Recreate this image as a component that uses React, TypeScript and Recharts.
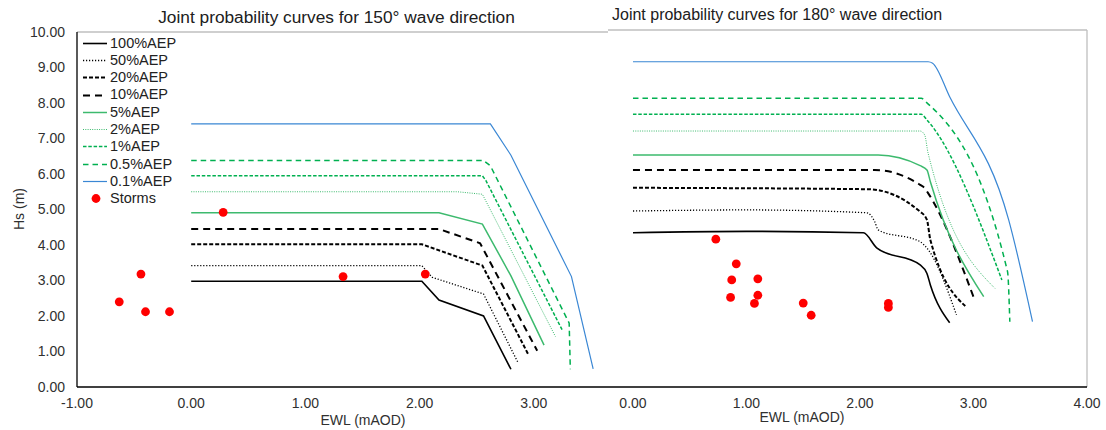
import React from 'react';
import { ComposedChart, Line, Scatter, XAxis, YAxis, ReferenceLine, Legend } from 'recharts';

type Pt = [number, number];

const FONT = '"Liberation Sans", Arial, sans-serif';

// ---- labels ----
const title150 = 'Joint probability curves for 150\u00b0 wave direction';
const title180 = 'Joint probability curves for 180\u00b0 wave direction';
const xTitle = 'EWL (mAOD)';
const yTitle = 'Hs (m)';
const seriesNames = ['100%AEP', '50%AEP', '20%AEP', '10%AEP', '5%AEP', '2%AEP', '1%AEP', '0.5%AEP', '0.1%AEP'];
const stormName = 'Storms';

// ---- ticks ----
const yTicks = [0, 1, 2, 3, 4, 5, 6, 7, 8, 9, 10];
const xTicks150 = [-1, 0, 1, 2, 3];
const xTicks180 = [0, 1, 2, 3, 4];

// ---- 150° wave direction: [EWL, Hs] ----
const d150_100: Pt[] = [[0, 2.98], [2.02, 2.98], [2.17, 2.45], [2.56, 2.0], [2.8, 0.5]];
const d150_50: Pt[] = [[0, 3.42], [2.02, 3.42], [2.11, 3.09], [2.56, 2.62], [2.86, 0.7]];
const d150_20: Pt[] = [[0, 4.02], [2.02, 4.02], [2.55, 3.42], [2.95, 0.93]];
const d150_10: Pt[] = [[0, 4.45], [2.17, 4.45], [2.53, 4.05], [3.03, 1.02]];
const d150_5: Pt[] = [[0, 4.91], [2.17, 4.91], [2.55, 4.59], [2.8, 3.13], [3.09, 1.18]];
const d150_2: Pt[] = [[0, 5.5], [2.33, 5.5], [2.55, 5.43], [3.19, 1.42]];
const d150_1: Pt[] = [[0, 5.95], [2.55, 5.95], [2.58, 5.82], [3.25, 1.6]];
const d150_05: Pt[] = [[0, 6.38], [2.56, 6.38], [2.62, 6.23], [3.31, 1.8], [3.32, 0.5]];
const d150_01: Pt[] = [[0, 7.41], [2.62, 7.41], [2.8, 6.53], [3.33, 3.11], [3.52, 0.51]];
const storms150: Pt[] = [[0.28, 4.92], [-0.44, 3.18], [-0.63, 2.4], [-0.4, 2.12], [-0.19, 2.12], [1.33, 3.11], [2.05, 3.18]];

// ---- 180° wave direction: [EWL, Hs] ----
const d180_100: Pt[] = [[0, 4.32], [1.0, 4.36], [2.03, 4.32], [2.15, 3.89], [2.53, 3.42], [2.59, 3.18], [2.62, 2.86], [2.79, 1.8]];
const d180_50: Pt[] = [[0, 4.93], [1.0, 4.96], [2.06, 4.88], [2.13, 4.63], [2.16, 4.4], [2.53, 4.07], [2.59, 3.89], [2.85, 2.02]];
const d180_20: Pt[] = [[0, 5.58], [2.07, 5.54], [2.53, 4.91], [2.59, 4.68], [2.62, 4.12], [2.94, 2.23]];
const d180_10: Pt[] = [[0, 6.08], [2.13, 6.08], [2.53, 5.66], [2.57, 5.57], [2.6, 5.43], [3.01, 2.44]];
const d180_5: Pt[] = [[0, 6.5], [2.16, 6.5], [2.53, 6.2], [2.59, 6.08], [2.62, 5.75], [3.09, 2.53]];
const d180_2: Pt[] = [[0, 7.17], [2.53, 7.17], [2.57, 7.06], [2.6, 6.55], [3.19, 2.76]];
const d180_1: Pt[] = [[0, 7.64], [2.54, 7.64], [2.59, 7.48], [3.25, 3.0]];
const d180_05: Pt[] = [[0, 8.09], [2.54, 8.09], [2.59, 7.96], [3.3, 3.23], [3.32, 1.83]];
const d180_01: Pt[] = [[0, 9.11], [2.6, 9.11], [2.64, 9.07], [2.79, 8.13], [3.31, 4.68], [3.52, 1.83]];
const storms180: Pt[] = [[0.73, 4.14], [0.91, 3.45], [0.87, 3.0], [1.1, 3.03], [0.86, 2.51], [1.1, 2.57], [1.07, 2.34], [1.5, 2.35], [1.57, 2.01], [2.25, 2.34], [2.25, 2.23]];

const curves150 = [d150_100, d150_50, d150_20, d150_10, d150_5, d150_2, d150_1, d150_05, d150_01];
const curves180 = [d180_100, d180_50, d180_20, d180_10, d180_5, d180_2, d180_1, d180_05, d180_01];

// ---- line styles (not data) ----
type Sty = { stroke: string; w: number; dash?: string };
const styles: Sty[] = [
  { stroke: '#000000', w: 1.6 },
  { stroke: '#000000', w: 1.3, dash: '1.2 1.8' },
  { stroke: '#000000', w: 2, dash: '4 2' },
  { stroke: '#000000', w: 2, dash: '7 5' },
  { stroke: '#3dba6e', w: 1.5 },
  { stroke: '#3dba6e', w: 1, dash: '1 1.3' },
  { stroke: '#00b050', w: 1.5, dash: '3.5 1.8' },
  { stroke: '#00b050', w: 1.5, dash: '5.5 4' },
  { stroke: '#3a87d4', w: 1.2 },
];

const toXY = (pts: Pt[]) => pts.map(([x, y]) => ({ x, y }));
const fmt = (v: number) => v.toFixed(2);
const tickStyle = { fontSize: 14, fill: '#303030', fontFamily: FONT };

const StormDot = (props: any) => {
  const { cx, cy } = props;
  if (cx == null || cy == null) return null;
  return <circle cx={cx} cy={cy} r={4.4} fill="#ff0000" />;
};

const renderLegend = () => (
  <div style={{ fontFamily: FONT, fontSize: 14.5, color: '#222', lineHeight: '17.3px' }}>
    {seriesNames.map((n, i) => (
      <div key={n} style={{ display: 'flex', alignItems: 'center', height: 17.3 }}>
        <svg width={27} height={17} style={{ display: 'block' }}>
          <line x1={0} x2={24} y1={8.5} y2={8.5} stroke={styles[i].stroke} strokeWidth={styles[i].w} strokeDasharray={styles[i].dash} />
        </svg>
        <span>{n}</span>
      </div>
    ))}
    <div style={{ display: 'flex', alignItems: 'center', height: 17.3 }}>
      <svg width={27} height={17} style={{ display: 'block' }}>
        <circle cx={13} cy={8.5} r={4.4} fill="#ff0000" />
      </svg>
      <span>{stormName}</span>
    </div>
  </div>
);

function LeftPanel() {
  return (
    <ComposedChart width={620} height={430} margin={{ top: 32, right: 12, bottom: 0, left: 0 }}>
      <XAxis
        type="number"
        dataKey="x"
        domain={[-1, 3.65]}
        ticks={xTicks150}
        tickFormatter={fmt}
        height={43}
        tickLine={false}
        tickSize={6}
        tickMargin={5}
        axisLine={{ stroke: '#000', strokeWidth: 1.3 }}
        tick={tickStyle}
        allowDataOverflow
        label={() => (
          <text x={363} y={425} textAnchor="middle" style={{ fontFamily: FONT, fontSize: 14, fill: '#303030' }}>
            {xTitle}
          </text>
        )}
      />
      <YAxis
        type="number"
        dataKey="y"
        domain={[0, 10]}
        ticks={yTicks}
        tickFormatter={fmt}
        width={77}
        tickLine={false}
        tickSize={6}
        tickMargin={6}
        axisLine={{ stroke: '#000', strokeWidth: 1.3 }}
        tick={tickStyle}
        label={() => (
          <text x={24} y={209} textAnchor="middle" transform="rotate(-90 24 209)" style={{ fontFamily: FONT, fontSize: 14, fill: '#303030' }}>
            {yTitle}
          </text>
        )}
      />
      <ReferenceLine y={10} stroke="#bfbfbf" strokeWidth={1.3} />
      {curves150.map((c, i) => (
        <Line
          key={seriesNames[i]}
          name={seriesNames[i]}
          data={toXY(c)}
          dataKey="y"
          type="linear"
          stroke={styles[i].stroke}
          strokeWidth={styles[i].w}
          strokeDasharray={styles[i].dash}
          dot={false}
          activeDot={false}
          isAnimationActive={false}
        />
      ))}
      <Scatter name={stormName} data={toXY(storms150)} dataKey="y" fill="#ff0000" shape={StormDot} isAnimationActive={false} />
      <Legend
        layout="vertical"
        align="center"
        verticalAlign="middle"
        content={renderLegend}
        wrapperStyle={{ left: 83, top: 34.5, width: 120, height: 176 }}
      />
    </ComposedChart>
  );
}

function RightPanel() {
  return (
    <ComposedChart width={498} height={430} margin={{ top: 30, right: 19, bottom: 0, left: 0 }} style={{ background: '#fff' }}>
      <XAxis
        type="number"
        dataKey="x"
        domain={[-0.22, 4]}
        ticks={xTicks180}
        tickFormatter={fmt}
        height={43}
        tickLine={false}
        tickSize={6}
        tickMargin={5}
        axisLine={{ stroke: '#000', strokeWidth: 1.3 }}
        tick={tickStyle}
        allowDataOverflow
        label={() => (
          <text x={194} y={422} textAnchor="middle" style={{ fontFamily: FONT, fontSize: 14, fill: '#303030' }}>
            {xTitle}
          </text>
        )}
      />
      <YAxis type="number" dataKey="y" domain={[0, 10]} ticks={yTicks} hide />
      <ReferenceLine y={10} stroke="#bfbfbf" strokeWidth={1.3} />
      <ReferenceLine x={4} stroke="#bfbfbf" strokeWidth={1.3} />
      {curves180.map((c, i) => (
        <Line
          key={seriesNames[i]}
          name={seriesNames[i]}
          data={toXY(c)}
          dataKey="y"
          type="monotoneX"
          stroke={styles[i].stroke}
          strokeWidth={styles[i].w}
          strokeDasharray={styles[i].dash}
          dot={false}
          activeDot={false}
          isAnimationActive={false}
        />
      ))}
      <Scatter name={stormName} data={toXY(storms180)} dataKey="y" fill="#ff0000" shape={StormDot} isAnimationActive={false} />
    </ComposedChart>
  );
}

export default function App() {
  return (
    <div style={{ position: 'absolute', left: 0, top: 0, width: 1106, height: 430, background: '#fff', overflow: 'hidden', fontFamily: FONT }}>
      <div style={{ position: 'absolute', left: 0, top: 0 }}>
        <LeftPanel />
      </div>
      <div style={{ position: 'absolute', left: 608, top: 0 }}>
        <RightPanel />
      </div>
      <div style={{ position: 'absolute', left: 0, width: 673, top: 6, textAlign: 'center', fontSize: 17.3, lineHeight: '22px', color: '#202020', whiteSpace: 'nowrap' }}>
        {title150}
      </div>
      <div style={{ position: 'absolute', left: 612, top: 5, fontSize: 16, lineHeight: '20px', color: '#202020', whiteSpace: 'nowrap' }}>
        {title180}
      </div>
    </div>
  );
}
